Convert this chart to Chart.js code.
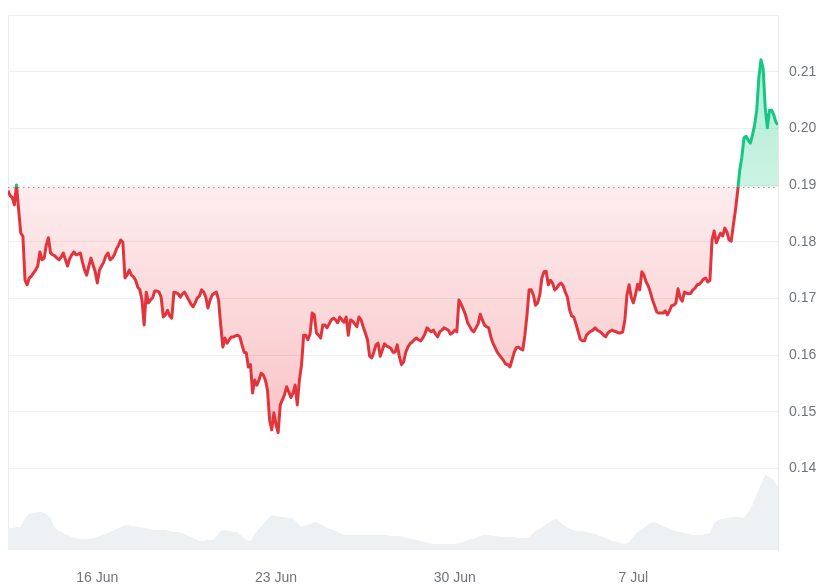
<!DOCTYPE html>
<html>
<head>
<meta charset="utf-8">
<script src="https://cdn.jsdelivr.net/npm/chart.js@4.4.1/dist/chart.umd.min.js"></script>
<style>
  html, body { margin: 0; padding: 0; background: #fff; }
  #wrap { width: 840px; height: 585px; }
</style>
</head>
<body>
<div id="wrap"><canvas id="priceChart"></canvas></div>
<script>
// price sampled every 2 hours from 12 Jun 12:00 (x axis in days of June)
const startDay = 12.5;
const priceStepDays = 2 / 24;
const volumeStepDays = 4 / 24;

const prices = [
  0.1890, 0.1881, 0.1878, 0.1865, 0.1900, 0.1856, 0.1815, 0.1810, 0.1732, 0.1724,
  0.1736, 0.1739, 0.1745, 0.1750, 0.1757, 0.1782, 0.1768, 0.1771, 0.1794, 0.1807,
  0.1780, 0.1777, 0.1775, 0.1771, 0.1768, 0.1773, 0.1780, 0.1768, 0.1757, 0.1770,
  0.1777, 0.1782, 0.1777, 0.1778, 0.1780, 0.1764, 0.1750, 0.1741, 0.1757, 0.1771,
  0.1759, 0.1747, 0.1727, 0.1750, 0.1757, 0.1764, 0.1775, 0.1780, 0.1768, 0.1771,
  0.1777, 0.1787, 0.1794, 0.1803, 0.1799, 0.1736, 0.1741, 0.1750, 0.1741, 0.1738,
  0.1732, 0.1720, 0.1715, 0.1697, 0.1653, 0.1711, 0.1692, 0.1697, 0.1701, 0.1713,
  0.1713, 0.1711, 0.1702, 0.1667, 0.1671, 0.1679, 0.1669, 0.1665, 0.1711, 0.1710,
  0.1708, 0.1702, 0.1708, 0.1711, 0.1704, 0.1697, 0.1690, 0.1685, 0.1692, 0.1701,
  0.1704, 0.1715, 0.1711, 0.1702, 0.1683, 0.1697, 0.1706, 0.1709, 0.1711, 0.1697,
  0.1653, 0.1614, 0.1630, 0.1621, 0.1627, 0.1632, 0.1632, 0.1634, 0.1635, 0.1632,
  0.1618, 0.1605, 0.1604, 0.1579, 0.1583, 0.1533, 0.1556, 0.1547, 0.1556, 0.1568,
  0.1565, 0.1556, 0.1538, 0.1485, 0.1468, 0.1498, 0.1477, 0.1463, 0.1512, 0.1521,
  0.1530, 0.1544, 0.1535, 0.1525, 0.1533, 0.1547, 0.1512, 0.1556, 0.1583, 0.1635,
  0.1635, 0.1627, 0.1637, 0.1674, 0.1671, 0.1639, 0.1635, 0.1630, 0.1653, 0.1653,
  0.1648, 0.1655, 0.1662, 0.1665, 0.1662, 0.1657, 0.1667, 0.1662, 0.1658, 0.1667,
  0.1635, 0.1662, 0.1660, 0.1655, 0.1650, 0.1667, 0.1662, 0.1650, 0.1639, 0.1627,
  0.1598, 0.1595, 0.1605, 0.1618, 0.1621, 0.1598, 0.1609, 0.1620, 0.1616, 0.1614,
  0.1612, 0.1605, 0.1605, 0.1618, 0.1597, 0.1583, 0.1588, 0.1605, 0.1614, 0.1620,
  0.1623, 0.1627, 0.1630, 0.1627, 0.1625, 0.1630, 0.1637, 0.1648, 0.1644, 0.1641,
  0.1644, 0.1637, 0.1632, 0.1641, 0.1644, 0.1648, 0.1646, 0.1644, 0.1637, 0.1639,
  0.1644, 0.1641, 0.1697, 0.1690, 0.1681, 0.1672, 0.1658, 0.1651, 0.1644, 0.1641,
  0.1648, 0.1655, 0.1672, 0.1662, 0.1653, 0.1650, 0.1648, 0.1632, 0.1621, 0.1613,
  0.1605, 0.1600, 0.1595, 0.1590, 0.1584, 0.1583, 0.1579, 0.1592, 0.1605, 0.1613,
  0.1614, 0.1611, 0.1609, 0.1635, 0.1671, 0.1715, 0.1715, 0.1706, 0.1688, 0.1692,
  0.1706, 0.1736, 0.1747, 0.1748, 0.1724, 0.1732, 0.1727, 0.1715, 0.1718, 0.1724,
  0.1727, 0.1722, 0.1711, 0.1702, 0.1680, 0.1669, 0.1667, 0.1655, 0.1642, 0.1628,
  0.1625, 0.1625, 0.1635, 0.1639, 0.1642, 0.1644, 0.1648, 0.1644, 0.1642, 0.1639,
  0.1635, 0.1632, 0.1639, 0.1642, 0.1644, 0.1642, 0.1641, 0.1639, 0.1639, 0.1641,
  0.1662, 0.1706, 0.1724, 0.1702, 0.1692, 0.1706, 0.1725, 0.1715, 0.1747, 0.1741,
  0.1729, 0.1722, 0.1711, 0.1697, 0.1687, 0.1676, 0.1674, 0.1674, 0.1674, 0.1678,
  0.1671, 0.1678, 0.1687, 0.1688, 0.1692, 0.1717, 0.1701, 0.1695, 0.1711, 0.1709,
  0.1708, 0.1709, 0.1715, 0.1718, 0.1724, 0.1725, 0.1729, 0.1734, 0.1736, 0.1729,
  0.1732, 0.1803, 0.1819, 0.1798, 0.1807, 0.1815, 0.1810, 0.1824, 0.1817, 0.1803,
  0.1801, 0.1829, 0.1856, 0.1888, 0.1926, 0.1949, 0.1983, 0.1986, 0.1979, 0.1974,
  0.1988, 0.2006, 0.2032, 0.2090, 0.2121, 0.2106, 0.2036, 0.2001, 0.2032, 0.2032,
  0.2024, 0.2011, 0.2006
];

// trading volume, every 4 hours (relative units)
const volumes = [
  22, 22, 23, 23, 32, 36, 37, 38, 38, 36,
  32, 22, 19, 17, 15, 13, 12, 11, 11, 11,
  12, 13, 15, 16, 18, 20, 22, 24, 25, 24,
  24, 23, 22, 21, 20, 20, 20, 20, 19, 18,
  18, 17, 15, 13, 11, 9, 9, 10, 10, 14,
  19, 20, 19, 18, 18, 14, 10, 9, 16, 21,
  26, 31, 35, 34, 33, 33, 32, 32, 27, 23,
  25, 26, 28, 27, 25, 22, 21, 19, 17, 15,
  15, 15, 15, 15, 15, 15, 15, 15, 15, 15,
  14, 14, 14, 13, 12, 11, 10, 9, 8, 7,
  6, 6, 6, 6, 6, 6, 7, 8, 10, 11,
  12, 14, 15, 15, 14, 14, 13, 13, 13, 13,
  12, 12, 12, 15, 19, 21, 24, 27, 30, 31,
  27, 24, 21, 20, 19, 19, 18, 17, 16, 14,
  13, 11, 9, 8, 7, 6, 8, 13, 18, 21,
  24, 27, 28, 26, 24, 22, 20, 19, 18, 17,
  16, 15, 15, 15, 16, 17, 27, 30, 31, 32,
  33, 33, 33, 32, 38, 45, 56, 66, 75, 73,
  70, 63
];

const baseline = 0.1897;
const tickDays = [16, 23, 30, 37];
const tickLabels = ['16 Jun', '23 Jun', '30 Jun', '7 Jul'];
const priceTicks = [0.14, 0.15, 0.16, 0.17, 0.18, 0.19, 0.20, 0.21, 0.22];

const RED = '#e1343d';
const GREEN = '#16c784';

Chart.defaults.font.family = '"Liberation Sans", Arial, sans-serif';
Chart.defaults.font.size = 14;
Chart.defaults.color = '#70757d';

const pricePoints = prices.map((p, i) => ({ x: startDay + i * priceStepDays, y: p }));
const volumePoints = volumes.map((v, i) => ({ x: startDay + i * volumeStepDays, y: v }));

// dotted baseline + left frame line
const baselinePlugin = {
  id: 'baselinePlugin',
  beforeDatasetsDraw(chart) {
    const { ctx, chartArea, scales } = chart;
    const y = Math.round(scales.y.getPixelForValue(baseline)) + 0.5;
    ctx.save();
    ctx.strokeStyle = '#ececec';
    ctx.lineWidth = 1;
    ctx.beginPath();
    ctx.moveTo(chartArea.left + 0.5, chartArea.top);
    ctx.lineTo(chartArea.left + 0.5, chartArea.bottom);
    ctx.stroke();
    ctx.strokeStyle = '#9a9a9a';
    ctx.setLineDash([1.5, 3.5]);
    ctx.beginPath();
    ctx.moveTo(chartArea.left, y);
    ctx.lineTo(chartArea.right, y);
    ctx.stroke();
    ctx.restore();
  }
};

const chart = new Chart(document.getElementById('priceChart'), {
  type: 'line',
  data: {
    datasets: [
      {
        label: 'Price',
        data: pricePoints,
        yAxisID: 'y',
        borderColor: RED,
        borderWidth: 3,
        borderJoinStyle: 'round',
        pointRadius: 0,
        tension: 0,
        fill: { target: { value: baseline }, above: 'rgba(22,199,132,0.25)', below: 'rgba(234,57,67,0.12)' },
        order: 1
      },
      {
        label: 'Volume',
        data: volumePoints,
        yAxisID: 'yv',
        borderWidth: 0,
        pointRadius: 0,
        backgroundColor: '#eef1f4',
        fill: 'origin',
        order: 2
      }
    ]
  },
  options: {
    responsive: true,
    maintainAspectRatio: false,
    animation: false,
    layout: { padding: { left: 8, top: 15, right: 0, bottom: 0 } },
    plugins: { legend: { display: false }, tooltip: { enabled: false } },
    scales: {
      x: {
        type: 'linear',
        min: startDay,
        max: startDay + (prices.length - 1) * priceStepDays,
        grid: { display: false },
        border: { display: false },
        afterBuildTicks: axis => { axis.ticks = tickDays.map(v => ({ value: v })); },
        afterFit: axis => { axis.height = 35; axis.paddingLeft = 0; axis.paddingRight = 0; },
        ticks: {
          padding: 12,
          maxRotation: 0,
          callback: v => tickLabels[tickDays.indexOf(v)] || ''
        }
      },
      y: {
        position: 'right',
        min: 0.1256,
        max: 0.22,
        afterBuildTicks: axis => { axis.ticks = priceTicks.map(v => ({ value: v })); },
        afterFit: axis => { axis.width = 62; axis.paddingTop = 0; axis.paddingBottom = 0; },
        grid: { color: '#f0f0f0', drawTicks: false },
        border: { display: true, color: '#e8e8e8' },
        ticks: {
          padding: 11,
          callback: v => (v > 0.215 ? '' : v.toFixed(2))
        }
      },
      yv: {
        display: false,
        min: 0,
        max: 535
      }
    }
  },
  plugins: [baselinePlugin]
});

// colour the line and fills relative to the baseline once the chart area is known
(function applyGradients() {
  const { ctx, chartArea, scales } = chart;
  const yb = scales.y.getPixelForValue(baseline);
  const yLow = scales.y.getPixelForValue(Math.min(...prices));
  const yHigh = scales.y.getPixelForValue(Math.max(...prices));
  const frac = (yb - chartArea.top) / (chartArea.bottom - chartArea.top);

  const lineGrad = ctx.createLinearGradient(0, chartArea.top, 0, chartArea.bottom);
  lineGrad.addColorStop(0, GREEN);
  lineGrad.addColorStop(frac, GREEN);
  lineGrad.addColorStop(frac, RED);
  lineGrad.addColorStop(1, RED);

  const redFill = ctx.createLinearGradient(0, yb, 0, yLow);
  redFill.addColorStop(0, 'rgba(234,57,67,0.09)');
  redFill.addColorStop(1, 'rgba(234,57,67,0.30)');

  const greenFill = ctx.createLinearGradient(0, yHigh, 0, yb);
  greenFill.addColorStop(0, 'rgba(22,199,132,0.34)');
  greenFill.addColorStop(1, 'rgba(22,199,132,0.22)');

  const ds = chart.data.datasets[0];
  ds.borderColor = lineGrad;
  ds.fill = { target: { value: baseline }, above: greenFill, below: redFill };
  chart.update('none');
})();
</script>
</body>
</html>
